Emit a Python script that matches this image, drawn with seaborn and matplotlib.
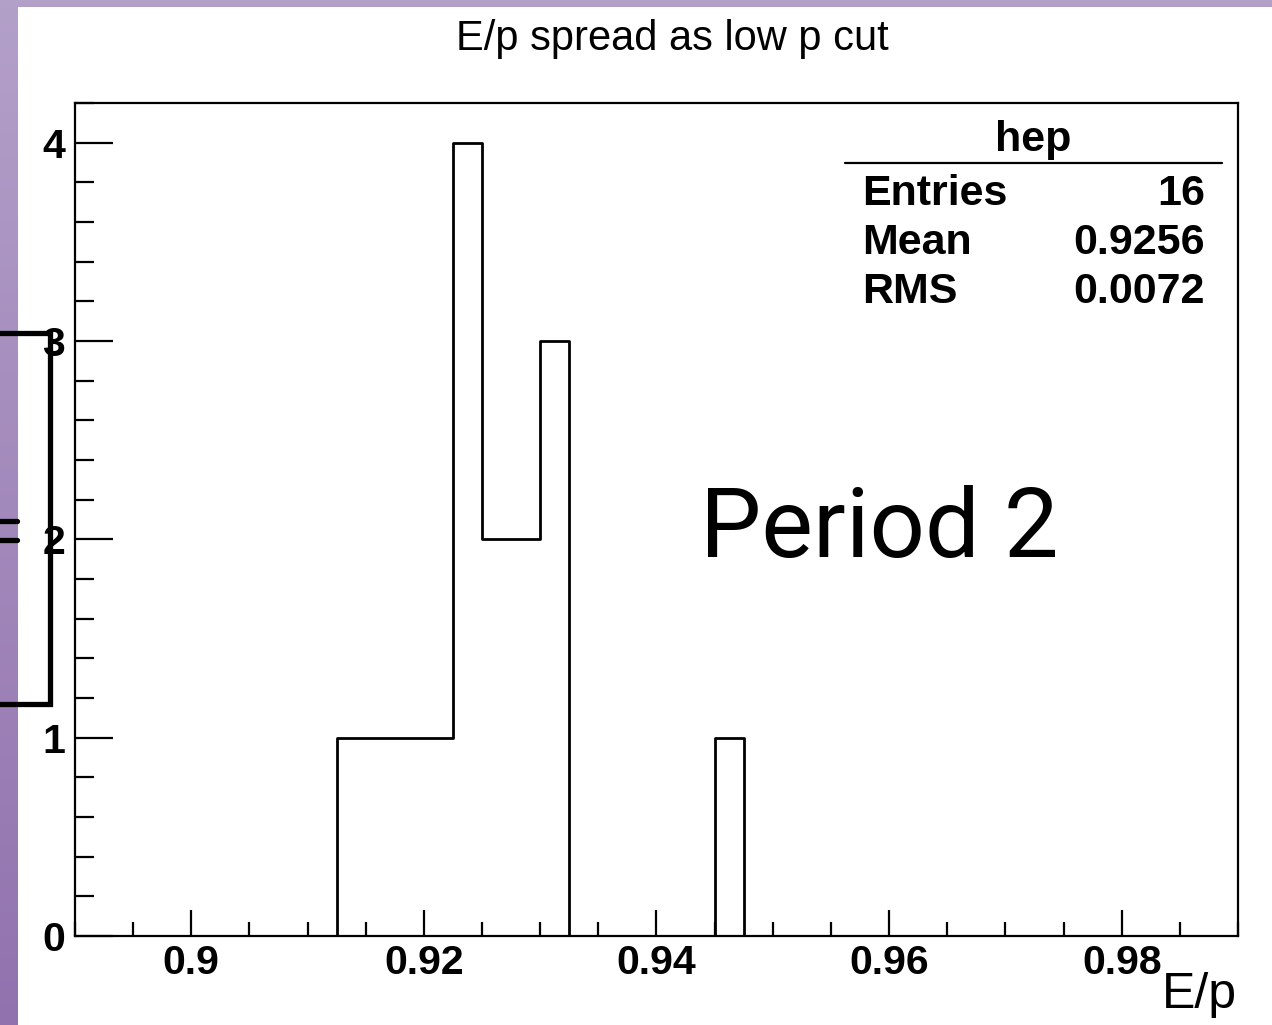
import numpy as np
import pandas as pd
import matplotlib
matplotlib.use("Agg")
import matplotlib.pyplot as plt
from matplotlib.lines import Line2D
from matplotlib.ticker import MultipleLocator, FixedLocator
import seaborn as sns

# ---- data ----
ep_bin_centers = [0.91375, 0.91625, 0.91875, 0.92125, 0.92375, 0.92625, 0.92875, 0.93125, 0.94625]
ep_counts = [1, 1, 1, 1, 4, 2, 2, 3, 1]
x_range = (0.89, 0.99)
n_bins = 40
x_tick_values = [0.90, 0.92, 0.94, 0.96, 0.98]
x_tick_labels = ["0.9", "0.92", "0.94", "0.96", "0.98"]
y_tick_values = [0, 1, 2, 3, 4]
y_tick_labels = ["0", "1", "2", "3", "4"]
stats_names = ["Entries", "Mean", "RMS"]
stats_values = ["16", "0.9256", "0.0072"]

sns.set_style("ticks")
plt.rcParams['font.family'] = ['Liberation Sans', 'DejaVu Sans']
plt.rcParams['text.color'] = 'black'
plt.rcParams['xtick.color'] = 'black'
plt.rcParams['ytick.color'] = 'black'
plt.rcParams['xtick.labelcolor'] = 'black'
plt.rcParams['ytick.labelcolor'] = 'black'

W, H = 1272, 1025
fig = plt.figure(figsize=(W / 100, H / 100), dpi=100)
fig.patch.set_facecolor("white")

def fx(px):
    return px / W

def fy(py):
    return 1 - py / H

# purple slide background bands
top_c = np.array([179, 160, 201]) / 255
bot_c = np.array([146, 114, 174]) / 255
t = np.linspace(0, 1, H)[:, None]
left_band = (top_c[None, :] * (1 - t) + bot_c[None, :] * t)
left_img = np.repeat(left_band[:, None, :], 18, axis=1)
fig.figimage(left_img, xo=0, yo=0, origin="upper", zorder=0)
top_img = np.tile(top_c[None, None, :], (7, W, 1))
fig.figimage(top_img, xo=0, yo=H - 7, origin="upper", zorder=0)

# axes frame
L, R, T, B = 75, 1238, 103, 936
ax = fig.add_axes([fx(L), fy(B), fx(R) - fx(L), fy(T) - fy(B)])
ax.set_facecolor("white")

df = pd.DataFrame({"ep": ep_bin_centers, "count": ep_counts})
edges = list(np.linspace(x_range[0], x_range[1], n_bins + 1))
sns.histplot(data=df, x="ep", weights="count", bins=edges, element="step",
             fill=False, color="black", linewidth=2.0, ax=ax)

ax.set_xlim(*x_range)
ax.set_ylim(0, 4.2)
ax.set_ylabel("")
ax.set_xlabel("")

for s in ax.spines.values():
    s.set_visible(True)
    s.set_linewidth(1.6)
    s.set_color("black")

ax.xaxis.set_major_locator(FixedLocator(x_tick_values))
ax.set_xticklabels(x_tick_labels)
ax.xaxis.set_minor_locator(MultipleLocator(0.005))
ax.yaxis.set_major_locator(FixedLocator(y_tick_values))
ax.set_yticklabels(y_tick_labels)
ax.yaxis.set_minor_locator(MultipleLocator(0.2))

ax.tick_params(axis="x", which="major", direction="in", length=19, width=1.6,
               labelsize=29.5, pad=6, top=False, colors="black")
ax.tick_params(axis="x", which="minor", direction="in", length=10, width=1.6, top=False,
               colors="black")
ax.tick_params(axis="y", which="major", direction="in", length=27, width=1.6,
               labelsize=29.5, pad=7, right=False, colors="black")
ax.tick_params(axis="y", which="minor", direction="in", length=14, width=1.6, right=False,
               colors="black")
for lab in ax.get_xticklabels() + ax.get_yticklabels():
    lab.set_fontweight("bold")
    lab.set_color("black")

# title
fig.text(fx(672), fy(50), "E/p spread as low p cut", ha="center", va="baseline",
         fontsize=30, color="black")
# x axis label
fig.text(fx(1237), fy(1008), "E/p", ha="right", va="baseline", fontsize=36,
         color="black")

# stats box text
fig.text(fx(1033), fy(151), "hep", ha="center", va="baseline", fontsize=31,
         fontweight="bold", color="black")
fig.add_artist(Line2D([fx(845), fx(1222)], [fy(163), fy(163)], color="black",
                      linewidth=1.6))
for i, (nm, val) in enumerate(zip(stats_names, stats_values)):
    yb = 205 + i * 49
    fig.text(fx(862), fy(yb), nm, ha="left", va="baseline", fontsize=31,
             fontweight="bold", color="black")
    fig.text(fx(1205), fy(yb), val, ha="right", va="baseline", fontsize=31,
             fontweight="bold", color="black")

# "Period 2" slide annotation
fig.text(fx(700), fy(557), "Period 2", ha="left", va="baseline", fontsize=70,
         fontweight="normal", family=["Roboto", "DejaVu Sans"], color="black")

# left bracket overlay and "=" sign
bx = [fx(-5), fx(49.5), fx(49.5), fx(-5)]
by = [fy(333), fy(333), fy(703.5), fy(703.5)]
fig.add_artist(Line2D(bx, by, color="black", linewidth=3.8, solid_joinstyle="miter"))
fig.add_artist(Line2D([fx(-5), fx(17)], [fy(520.5), fy(520.5)], color="black", linewidth=3.8))
fig.add_artist(Line2D([fx(-5), fx(17)], [fy(540), fy(540)], color="black", linewidth=3.8))

fig.savefig("out.png", dpi=100)
